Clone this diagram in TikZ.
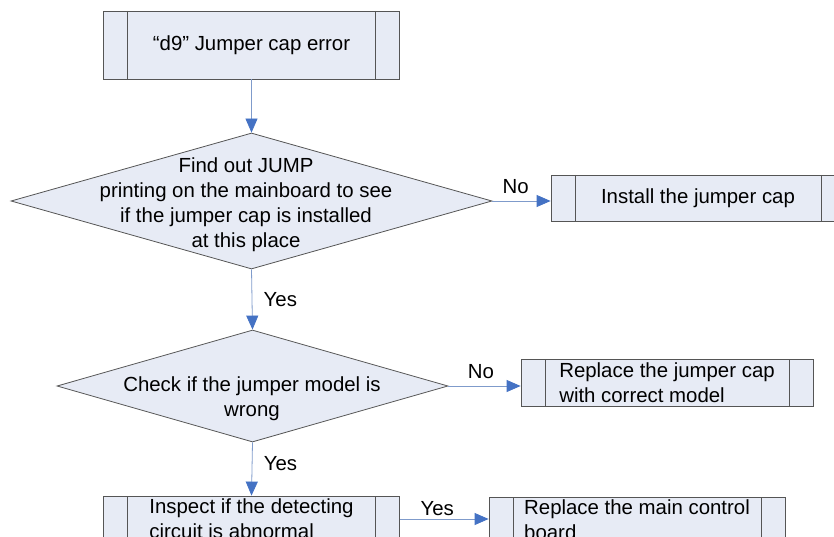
\documentclass[tikz,border=0pt]{standalone}
\usepackage{fontspec}
\setmainfont{Liberation Sans}
\usetikzlibrary{shapes.geometric,arrows.meta}
\definecolor{boxfill}{HTML}{E7EBF5}
\definecolor{boxline}{HTML}{555555}
\definecolor{flowline}{HTML}{7F9BCB}
\definecolor{flowhead}{HTML}{4472C4}
\tikzset{
  proc/.style={draw=boxline, fill=boxfill, line width=0.8pt, minimum width=296pt, minimum height=46pt, inner sep=0pt, align=left,
    path picture={\draw[boxline, line width=0.8pt] ([xshift=24pt]path picture bounding box.north west) -- ([xshift=24pt]path picture bounding box.south west)
      ([xshift=-24pt]path picture bounding box.north east) -- ([xshift=-24pt]path picture bounding box.south east);}},
  decision/.style={diamond, draw=boxline, fill=boxfill, line width=0.8pt, inner sep=0pt},
  flow/.style={draw=flowline, line width=0.8pt, -{Triangle[length=14pt,width=12pt,color=flowhead]}},
}
\begin{document}
\begin{tikzpicture}[x=1pt, y=-1pt, font=\fontsize{20.4}{25}\selectfont]
\useasboundingbox (0,0) rectangle (834,537);
\node[proc, minimum height=68pt, align=center](err) at (251.5,45){“d9” Jumper cap error};
\node[decision, minimum width=481pt, minimum height=136pt](find) at (251.5,201){};
\node[align=center](findtxt) at (246,205){Find out JUMP\\printing on the mainboard to see\\if the jumper cap is installed\\at this place};
\node[proc, minimum width=294pt](install) at (698,198){Install the jumper cap};
\node[decision, minimum width=391pt, minimum height=112pt](model) at (252.5,386){};
\node[align=center](modeltxt) at (252,399){Check if the jumper model is\\wrong};
\node[proc, minimum width=292pt, minimum height=47pt](replace) at (667,382.5){Replace the jumper cap\\with correct model};
\node[proc](inspect) at (251.5,519){Inspect if the detecting\\circuit is abnormal};
\node[proc](board) at (637,520){Replace the main control\\board};
\draw[flow](err) -- (find);
\draw[flow](find.east) -- node[above, pos=0.4, yshift=4pt]{No} (find.east -| install.west);
\draw[flow](find.south) -- node[right, xshift=8pt]{Yes} (model.north);
\draw[flow](model.east) -- node[above, pos=0.45, yshift=4pt]{No} (model.east -| replace.west);
\draw[flow](model.south) -- node[right, xshift=8pt, pos=0.4]{Yes} (inspect.north);
\draw[flow](inspect.east) -- node[above, pos=0.42]{Yes} (inspect.east -| board.west);
\end{tikzpicture}
\end{document}
